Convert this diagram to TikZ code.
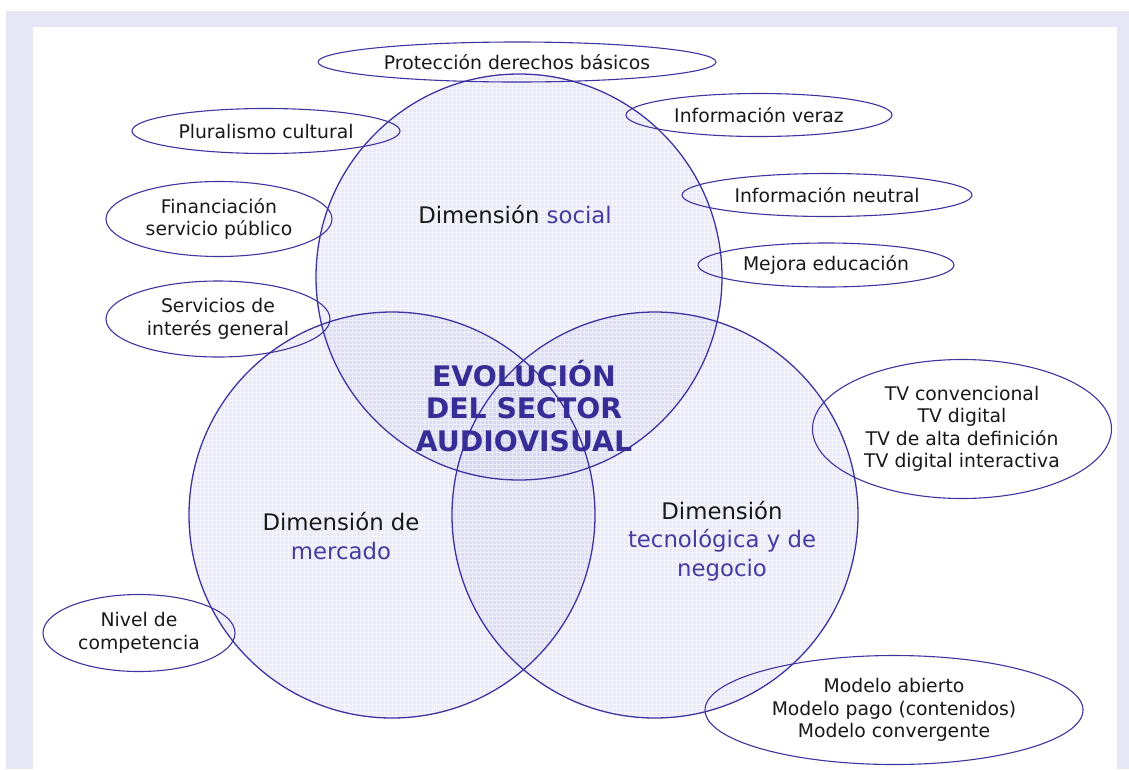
\documentclass[tikz,border=0pt]{standalone}
\usepackage{fontspec}
\setmainfont{DejaVu Sans}
\usetikzlibrary{shapes.geometric}
\definecolor{framecol}{RGB}{230,230,247}
\definecolor{strk}{RGB}{62,52,160}
\definecolor{circfill}{RGB}{208,208,242}
\definecolor{titleblue}{RGB}{55,45,150}
\definecolor{wordblue}{RGB}{70,60,160}
\definecolor{txt}{RGB}{25,25,25}
\tikzset{
  dimcircle/.style={circle, minimum size=406pt, inner sep=0pt, fill=circfill, fill opacity=0.45},
  circline/.style={draw=strk, line width=1.3pt},
  oval/.style={ellipse, draw=strk, line width=1.1pt, inner sep=0pt, align=center, text=txt,
    font=\fontsize{18.8}{22.5}\selectfont},
  dimlabel/.style={align=center, text=txt, font=\fontsize{22.8}{28.5}\selectfont},
  bigtitle/.style={align=center, text=titleblue, font=\bfseries\fontsize{28.3}{32.5}\selectfont},
}
\begin{document}
\begin{tikzpicture}[x=1pt,y=-1pt]
\useasboundingbox (0,0) rectangle (1129,769);
\fill[white] (0,0) rectangle (1129,769);
\fill[framecol] (6,11) rectangle (1129,769);
\fill[white] (33,27) rectangle (1117,769);
% circles
\node[dimcircle] (social) at (519,277) {};
\node[dimcircle] (mercado) at (392,515) {};
\node[dimcircle] (tecno) at (655,515) {};
\begin{scope}
  \clip (519,277) circle[radius=203] (392,515) circle[radius=203] (655,515) circle[radius=203];
  \draw[white, line width=0.7pt, opacity=0.55, step=4pt] (0,0) grid (1129,769);
\end{scope}
\draw[circline] (social.center) circle[radius=203];
\draw[circline] (mercado.center) circle[radius=203];
\draw[circline] (tecno.center) circle[radius=203];
% ovals
\node[oval, minimum width=398pt, minimum height=40pt] (proteccion) at (517,62) {Protección derechos básicos};
\node[oval, minimum width=268pt, minimum height=45pt] (pluralismo) at (266,131) {Pluralismo cultural};
\node[oval, minimum width=266pt, minimum height=43pt] (veraz) at (759,115) {Información veraz};
\node[oval, minimum width=290pt, minimum height=43pt] (neutral) at (827,195) {Información neutral};
\node[oval, minimum width=256pt, minimum height=44pt] (educacion) at (826,265) {Mejora educación};
\node[oval, minimum width=226pt, minimum height=75pt] (financiacion) at (219,219) {Financiación\\servicio público};
\node[oval, minimum width=224pt, minimum height=76pt] (servicios) at (218,319) {Servicios de\\interés general};
\node[oval, minimum width=299pt, minimum height=139pt] (tv) at (962,429) {TV convencional\\TV digital\\TV de alta definición\\TV digital interactiva};
\node[oval, minimum width=378pt, minimum height=109pt] (modelo) at (894,710) {Modelo abierto\\Modelo pago (contenidos)\\Modelo convergente};
\node[oval, minimum width=192pt, minimum height=77pt] (nivel) at (139,633) {Nivel de\\competencia};
% labels
\node[dimlabel] (lsocial) at (515,215) {Dimensión {\color{wordblue}social}};
\node[dimlabel] (lmercado) at (341,536) {Dimensión de\\{\color{wordblue}mercado}};
\node[dimlabel] (ltecno) at (722,541) {Dimensión\\{\color{wordblue}tecnológica y de}\\{\color{wordblue}negocio}};
\node[bigtitle] (titulo) at (524,406) {EVOLUCIÓN\\DEL SECTOR\\AUDIOVISUAL};
\end{tikzpicture}
\end{document}
